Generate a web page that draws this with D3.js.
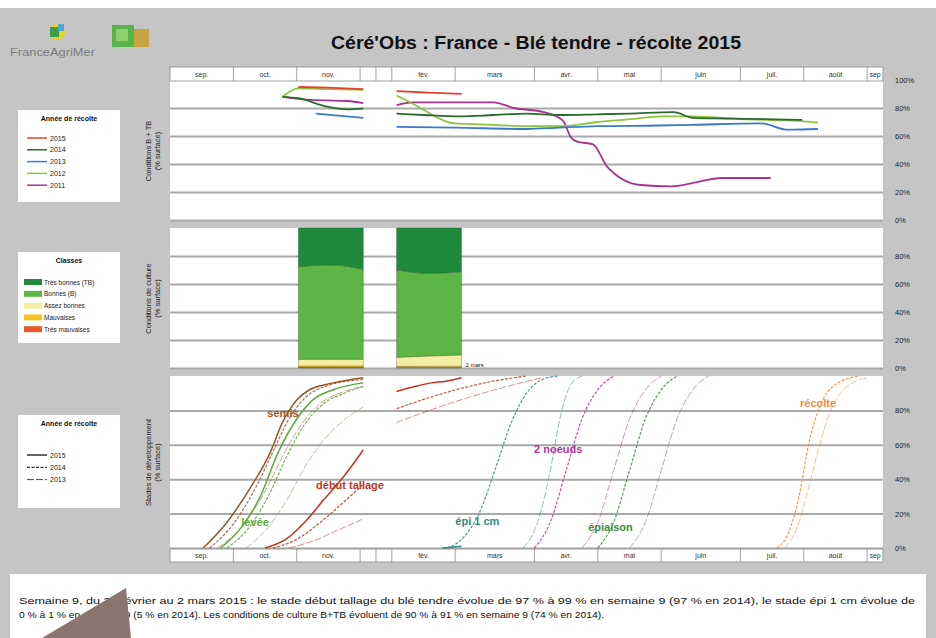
<!DOCTYPE html>
<html>
<head>
<meta charset="utf-8">
<script src="https://cdn.jsdelivr.net/npm/d3@7"></script>
<style>
body { margin: 0; background: #fff; }
svg { display: block; font-family: "Liberation Sans", Arial, sans-serif; }
</style>
</head>
<body>
<svg id="chart" width="936" height="638"></svg>
<script>
// ---- data ----
const months = ["sep.", "oct.", "nov.", "", "", "fév.", "mars", "avr.", "mai", "juin", "juil.", "août", "sep"]
const monthWeeks = [4, 4, 4, 1, 1, 4, 5, 4, 4, 5, 4, 4, 1]

const years = ["2015", "2014", "2013", "2012", "2011"]
const yearColors = ["#e8402e", "#2b6a33", "#3b79c9", "#8cc63f", "#a8338f"]

// B+TB conditions, [week, %] ; null = winter break
const cond2015 = [[8.1, 95], [10, 94.5], [12.2, 93.5], null, [14.3, 92], [16.3, 91], [18.4, 90]]
const cond2014 = [[7.1, 88], [8.1, 87], [9.9, 81], [11.2, 79], [12.2, 79.5], null, [14.3, 76], [16, 75], [18.3, 74], [20.4, 75], [22.5, 76], [24.6, 75], [27, 75.5], [29, 76], [31.8, 77], [33, 73], [35, 72.5], [37.5, 72], [39.9, 71.5]]
const cond2013 = [[9.2, 76], [12.2, 73], null, [14.3, 66.5], [18, 66], [22.5, 65], [24.6, 66], [27, 67], [30.9, 67.5], [33, 68], [37.3, 69], [39, 64.5], [40.9, 65]]
const cond2012 = [[7.1, 88], [8.1, 94], [10, 93.5], [12.2, 93], null, [14.3, 89], [15.5, 82], [16.9, 73], [17.9, 69], [20.4, 68], [22.5, 67], [24.6, 67], [27, 70], [29, 72], [31, 74], [33, 74], [36, 72], [39.3, 71], [40.9, 69.5]]
const cond2011 = [[7.1, 88], [8.6, 86], [11.2, 85], [12.2, 83.5], null, [14.3, 82], [15.3, 84], [20.4, 84], [21.7, 80], [23.6, 77], [24.8, 71], [25.3, 59], [25.7, 56], [26.7, 54], [27.6, 38], [29.7, 25], [31.6, 24], [34.9, 30], [37.9, 30]]

// culture classes (% surface)
const classes = ["Très bonnes (TB)", "Bonnes (B)", "Assez bonnes", "Mauvaises", "Très mauvaises"]
const classColors = ["#1f8a3b", "#5cb544", "#f4eea2", "#f6c324", "#e9582b"]
const classWeeks = [8.1, 10.2, 12.2, 14.3, 16.4, 18.4]
const classBlock = [1, 1, 1, 2, 2, 2]
const classTB = [27.6, 26.4, 29.5, 30, 32.4, 31.2]
const classB = [66.2, 67.4, 64.3, 62.4, 59.0, 59.5]
const classAB = [4.7, 4.7, 4.7, 6.4, 7.3, 8.0]
const classM = [1.0, 1.0, 1.0, 0.8, 0.9, 0.9]
const classTM = [0.5, 0.5, 0.5, 0.4, 0.4, 0.4]

// development stages, [week, %]
const stages = ["semis", "levée", "début tallage", "épi 1 cm", "2 noeuds", "épiaison", "récolte"]
const stageColors = ["#9c5526", "#5fa83a", "#bf3620", "#2f8a86", "#b0369c", "#3d8a3d", "#f5883a"]
const stageYears = ["2015", "2014", "2013"]

const semis2015 = [[2.1, 0], [3.6, 15], [5.0, 34], [6.3, 55], [7.1, 73], [8.0, 86], [8.8, 92], [10.3, 96], [12.2, 99]]
const semis2014 = [[2.5, 0], [4, 14], [5.4, 35], [6.6, 58], [7.5, 75], [8.5, 87], [9.8, 94], [12.2, 98]]
const semis2013 = [[3.0, 0], [4.5, 12], [6.0, 33], [7.2, 55], [8.3, 72], [9.5, 84], [11, 91], [12.2, 94]]
const levee2015 = [[3.2, 0], [4.5, 12], [5.7, 30], [6.8, 55], [8.0, 75], [9.0, 86], [10.3, 92], [12.2, 96]]
const levee2014 = [[3.6, 0], [5.0, 12], [6.2, 30], [7.3, 52], [8.5, 72], [9.7, 84], [11, 90], [12.2, 94]]
const levee2013 = [[4.8, 0], [6.2, 12], [7.5, 30], [8.7, 50], [10, 66], [11.2, 76], [12.2, 82]]
const tallage2015 = [[6.0, 0], [7.3, 5], [8.5, 15], [9.7, 28], [11, 42], [12.2, 57], null, [14.3, 91], [15.5, 94], [16.5, 96], [17.4, 97], [18.4, 99]]
const tallage2014 = [[6.5, 0], [8, 5], [9.5, 15], [11, 27], [12.2, 37], null, [14.3, 81], [16.9, 89], [20.4, 97], [22.5, 100]]
const tallage2013 = [[7.5, 0], [9, 4], [10.5, 10], [12.2, 17], null, [14.3, 73], [17, 82], [20.5, 92], [23.5, 99]]
const epi2015 = [[17.2, 0], [18.4, 1]]
const epi2014 = [[17.5, 0], [18.4, 5], [19.5, 20], [20.5, 45], [21.5, 72], [22.5, 90], [23.5, 98], [24.5, 100]]
const epi2013 = [[22.3, 0], [23.2, 15], [24, 45], [24.6, 75], [25.3, 95], [26, 100]]
const noeuds2014 = [[23, 0], [24, 15], [25, 45], [26, 75], [27, 92], [28, 100]]
const noeuds2013 = [[26, 0], [27, 15], [28, 45], [29, 75], [30, 92], [31, 100]]
const epiaison2014 = [[27, 0], [28, 15], [29, 45], [30, 75], [31, 92], [32, 100]]
const epiaison2013 = [[29, 0], [30, 15], [31, 45], [32, 75], [33, 92], [34, 100]]
const recolte2014 = [[38.3, 0], [39, 8], [39.7, 30], [40.3, 60], [41, 82], [42, 95], [43.5, 100]]
const recolte2013 = [[38.8, 0], [39.5, 10], [40.3, 35], [41, 60], [41.7, 80], [42.5, 92], [44, 99]]

const stageSeries = [
    [semis2015, semis2014, semis2013],
    [levee2015, levee2014, levee2013],
    [tallage2015, tallage2014, tallage2013],
    [epi2015, epi2014, epi2013],
    [null, noeuds2014, noeuds2013],
    [null, epiaison2014, epiaison2013],
    [null, recolte2014, recolte2013]
]

const summary = [
    "Semaine 9, du 24 février au 2 mars 2015 : le stade début tallage du blé tendre évolue de 97 % à 99 % en semaine 9 (97 % en 2014), le stade épi 1 cm évolue de",
    "0 % à 1 % en semaine 9 (5 % en 2014). Les conditions de culture B+TB évoluent de 90 % à 91 % en semaine 9 (74 % en 2014)."
]

// ---- layout ----
const svg = d3.select("#chart")
const left = 170, right = 883
const totalWeeks = d3.sum(monthWeeks)

const x = d3.scaleLinear().domain([0, totalWeeks]).range([left, right])
const yTop = d3.scaleLinear().domain([0, 100]).range([220, 80])
const yMid = d3.scaleLinear().domain([0, 100]).range([368, 228])
const yBot = d3.scaleLinear().domain([0, 100]).range([548, 376])

svg.append("rect").attr("width", 936).attr("height", 638).attr("fill", "#c5c5c5")
svg.append("rect").attr("width", 936).attr("height", 8).attr("fill", "#fff")

// logos
svg.append("circle").attr("cx", 57).attr("cy", 32).attr("r", 8).attr("fill", "#e6d22a")
svg.append("rect").attr("x", 50).attr("y", 27).attr("width", 9).attr("height", 10).attr("fill", "#3aa04a")
svg.append("rect").attr("x", 58).attr("y", 24).attr("width", 6).attr("height", 7).attr("fill", "#4aa8d8")
svg.append("text").attr("x", 10).attr("y", 56).attr("font-size", 11).attr("fill", "#7a7a7a")
    .attr("textLength", 85).attr("lengthAdjust", "spacingAndGlyphs")
    .text("FranceAgriMer")
svg.append("rect").attr("x", 112).attr("y", 25).attr("width", 22).attr("height", 22).attr("fill", "#58b44a")
svg.append("rect").attr("x", 116).attr("y", 29).attr("width", 12).attr("height", 12).attr("fill", "#8fd06a")
svg.append("rect").attr("x", 134).attr("y", 29).attr("width", 15).attr("height", 18).attr("fill", "#c9a244")

svg.append("text").attr("x", 536).attr("y", 49).attr("text-anchor", "middle")
    .attr("font-size", 18).attr("font-weight", "bold").attr("fill", "#111")
    .attr("textLength", 410).attr("lengthAdjust", "spacingAndGlyphs")
    .text("Céré'Obs : France - Blé tendre - récolte 2015")

// panels
const panels = [
    { y: yTop, top: 81, bottom: 221, ticks: [0, 20, 40, 60, 80, 100], title: ["Conditions B + TB", "(% surface)"] },
    { y: yMid, top: 228, bottom: 369, ticks: [0, 20, 40, 60, 80], title: ["Conditions de culture", "(% surface)"] },
    { y: yBot, top: 376, bottom: 549, ticks: [0, 20, 40, 60, 80], title: ["Stades de développement", "(% surface)"] }
]

panels.forEach(p => {
    svg.append("rect").attr("x", left).attr("y", p.top)
        .attr("width", right - left).attr("height", p.bottom - p.top).attr("fill", "#fff")

    const grid = svg.append("g").attr("transform", `translate(${left},0)`)
        .call(d3.axisRight(p.y).tickValues([0, 20, 40, 60, 80]).tickSize(right - left).tickFormat(""))
    grid.select(".domain").remove()
    grid.selectAll("line").attr("stroke", "#a9a9a9").attr("stroke-width", 2)

    const ax = svg.append("g").attr("transform", `translate(${right},0)`)
        .call(d3.axisRight(p.y).tickValues(p.ticks).tickSize(0).tickPadding(12).tickFormat(d => d + "%"))
    ax.select(".domain").remove()
    ax.selectAll("text").attr("font-size", 7.5).attr("fill", "#222")
        .attr("font-family", "'Liberation Sans', Arial, sans-serif")

    const cy = (p.top + p.bottom) / 2
    p.title.forEach((t, i) => {
        svg.append("text")
            .attr("transform", `translate(${151 + i * 9},${cy}) rotate(-90)`)
            .attr("text-anchor", "middle").attr("font-size", 7.5).attr("fill", "#222")
            .text(t)
    })
})

// month axes
const monthStart = d3.cumsum([0].concat(monthWeeks))
function monthAxis(y0, h) {
    const g = svg.append("g")
    g.append("rect").attr("x", left).attr("y", y0).attr("width", right - left).attr("height", h)
        .attr("fill", "#fff").attr("stroke", "#8a8a8a").attr("stroke-width", 0.8)
    months.forEach((m, i) => {
        const x0 = x(monthStart[i]), x1 = x(monthStart[i + 1])
        if (i > 0) g.append("line").attr("x1", x0).attr("x2", x0).attr("y1", y0).attr("y2", y0 + h)
            .attr("stroke", "#8a8a8a").attr("stroke-width", 0.8)
        g.append("text").attr("x", (x0 + x1) / 2).attr("y", y0 + h / 2 + 2.5)
            .attr("text-anchor", "middle").attr("font-size", 7).attr("fill", "#333").text(m)
    })
}
monthAxis(67, 14)
monthAxis(549, 13)

// top panel lines
const condLine = d3.line()
    .defined(d => d)
    .x(d => x(d[0]))
    .y(d => yTop(d[1]))
    .curve(d3.curveMonotoneX)

const condSeries = [cond2015, cond2014, cond2013, cond2012, cond2011]
svg.append("g").selectAll("path")
    .data(condSeries.map((s, i) => ({ s, i })).reverse())
    .join("path")
    .attr("d", d => condLine(d.s))
    .attr("fill", "none")
    .attr("stroke", d => yearColors[d.i])
    .attr("stroke-width", 1.8)

// middle panel stacked areas
const classKeys = ["TM", "M", "AB", "B", "TB"]
const classRows = classWeeks.map((w, i) => ({
    w, block: classBlock[i], TB: classTB[i], B: classB[i], AB: classAB[i], M: classM[i], TM: classTM[i]
}))
const keyColor = { TB: classColors[0], B: classColors[1], AB: classColors[2], M: classColors[3], TM: classColors[4] }

const classArea = d3.area()
    .x(d => x(d.data.w))
    .y0(d => yMid(d[0]))
    .y1(d => yMid(d[1]))
    .curve(d3.curveMonotoneX)

d3.groups(classRows, d => d.block).forEach(([block, rows]) => {
    const layers = d3.stack().keys(classKeys)(rows)
    svg.append("g").selectAll("path")
        .data(layers)
        .join("path")
        .attr("d", classArea)
        .attr("fill", d => keyColor[d.key])
        .attr("stroke", "rgba(40,40,20,0.45)")
        .attr("stroke-width", 0.6)
})
svg.append("text").attr("x", x(18.4) + 4).attr("y", yMid(0) - 1.5)
    .attr("font-size", 6).attr("fill", "#111").text("2 mars")

// bottom panel stage lines
const stageLine = d3.line()
    .defined(d => d)
    .x(d => x(d[0]))
    .y(d => yBot(d[1]))
    .curve(d3.curveMonotoneX)

const yearDash = [null, "3,1.5", "7,2"]
const yearWidth = [1.5, 1.2, 0.9]
const yearOpacity = [1, 0.85, 0.6]

const stageG = svg.append("g")
stageSeries.forEach((set, si) => {
    set.forEach((s, yi) => {
        if (!s) return
        stageG.append("path")
            .attr("d", stageLine(s))
            .attr("fill", "none")
            .attr("stroke", stageColors[si])
            .attr("stroke-width", yearWidth[yi])
            .attr("stroke-opacity", yearOpacity[yi])
            .attr("stroke-dasharray", yearDash[yi])
    })
})

const stageLabelAt = [[7.13, 78.5], [5.37, 15], [11.36, 36.6], [19.4, 15.7], [24.5, 57.6], [27.8, 12.2], [40.9, 84.3]]
stages.forEach((s, i) => {
    svg.append("text")
        .attr("x", x(stageLabelAt[i][0])).attr("y", yBot(stageLabelAt[i][1]) + 4)
        .attr("text-anchor", "middle").attr("font-size", 11).attr("font-weight", "bold")
        .attr("fill", stageColors[i]).text(s)
})

// legends
function legendBox(y0, h, title) {
    svg.append("rect").attr("x", 18).attr("y", y0).attr("width", 102).attr("height", h).attr("fill", "#fff")
    svg.append("text").attr("x", 69).attr("y", y0 + 11).attr("text-anchor", "middle")
        .attr("font-size", 7).attr("font-weight", "bold").attr("fill", "#111").text(title)
}

legendBox(110, 92, "Année de récolte")
years.forEach((yr, i) => {
    const yy = 138 + i * 11.8
    svg.append("line").attr("x1", 27).attr("x2", 47).attr("y1", yy).attr("y2", yy)
        .attr("stroke", yearColors[i]).attr("stroke-width", 1.5)
    svg.append("text").attr("x", 50).attr("y", yy + 2.5).attr("font-size", 7).attr("fill", "#222").text(yr)
})

legendBox(252, 91, "Classes")
classes.forEach((c, i) => {
    const yy = 282 + i * 11.8
    svg.append("rect").attr("x", 24).attr("y", yy - 3).attr("width", 18).attr("height", 6).attr("fill", classColors[i])
    svg.append("text").attr("x", 44).attr("y", yy + 2.5).attr("font-size", 6.5).attr("fill", "#222").text(c)
})

legendBox(415, 93, "Année de récolte")
stageYears.forEach((yr, i) => {
    const yy = 455 + i * 12.3
    svg.append("line").attr("x1", 27).attr("x2", 47).attr("y1", yy).attr("y2", yy)
        .attr("stroke", "#333").attr("stroke-width", yearWidth[i]).attr("stroke-dasharray", yearDash[i])
    svg.append("text").attr("x", 50).attr("y", yy + 2.5).attr("font-size", 7).attr("fill", "#222").text(yr)
})

// commentary box
svg.append("rect").attr("x", 10).attr("y", 574).attr("width", 916).attr("height", 70).attr("fill", "#fff")
svg.append("text").attr("x", 19).attr("y", 604).attr("font-size", 9.2).attr("fill", "#111")
    .attr("textLength", 896).attr("lengthAdjust", "spacingAndGlyphs").text(summary[0])
svg.append("text").attr("x", 19).attr("y", 618).attr("font-size", 9.2).attr("fill", "#111")
    .attr("textLength", 585).attr("lengthAdjust", "spacingAndGlyphs").text(summary[1])

// pointer overlay seen on the picture
svg.append("polygon").attr("points", "42,638 126,588 131,638").attr("fill", "#8b7570")
</script>
</body>
</html>
